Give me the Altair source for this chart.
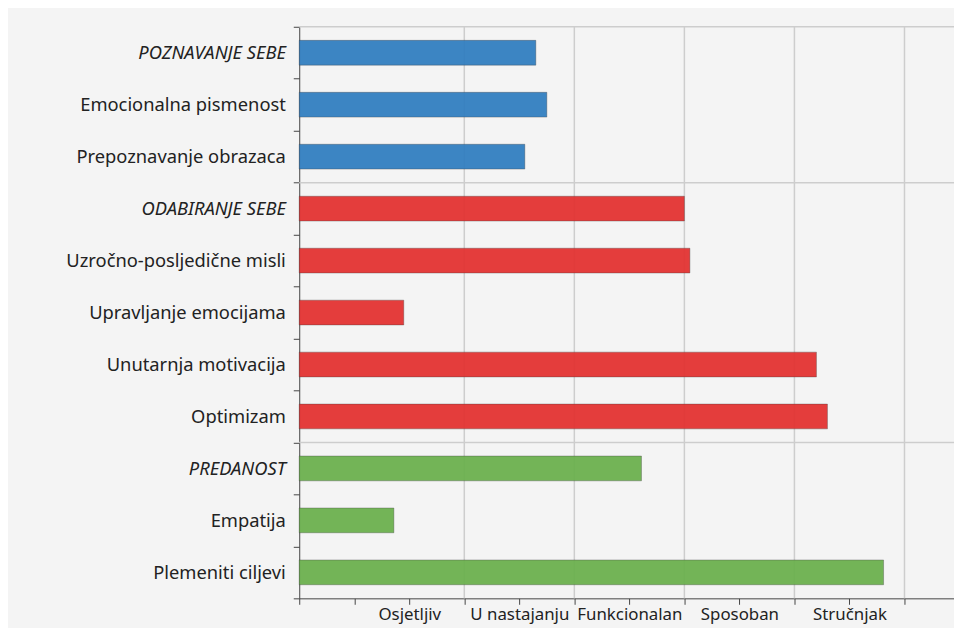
import altair as alt
import pandas as pd

categories = [
    "POZNAVANJE SEBE", "Emocionalna pismenost", "Prepoznavanje obrazaca",
    "ODABIRANJE SEBE", "Uzročno-posljedične misli", "Upravljanje emocijama",
    "Unutarnja motivacija", "Optimizam",
    "PREDANOST", "Empatija", "Plemeniti ciljevi",
]
values = [2.15, 2.25, 2.05, 3.50, 3.55, 0.95, 4.70, 4.80, 3.11, 0.86, 5.31]
groups = ["Poznavanje"] * 3 + ["Odabiranje"] * 5 + ["Predanost"] * 3
group_names = ["Poznavanje", "Odabiranje", "Predanost"]
group_colors = ["#2f7dc0", "#e3302f", "#6ab04c"]
headers = ["POZNAVANJE SEBE", "ODABIRANJE SEBE", "PREDANOST"]
level_labels = {1: "Osjetljiv", 2: "U nastajanju", 3: "Funkcionalan", 4: "Sposoban", 5: "Stručnjak"}
x_ticks = [i * 0.5 for i in range(12)]
x_grid = [1.5, 2.5, 3.5, 4.5, 5.5]

df = pd.DataFrame({"cat": categories, "val": values, "grp": groups})
grid_df = pd.DataFrame({"g": x_grid})
hgrid_df = pd.DataFrame({"cat": headers})

label_expr = " : ".join(
    [f"datum.value == {k} ? '{v}'" for k, v in level_labels.items()]
) + " : ''"

font = "Noto Sans"
yscale = alt.Scale(domain=categories)
xscale = alt.Scale(domain=[0, 5.95], nice=False, zero=True)

bars = alt.Chart(df).mark_bar(size=25, opacity=0.93, strokeWidth=1, strokeOpacity=0.35, stroke="#333").encode(
    y=alt.Y("cat:N", scale=yscale, title=None, sort=categories,
            axis=alt.Axis(tickBand="extent", grid=False, domainColor="#444", tickColor="#444",
                          tickSize=6, labelFont=font, labelFontSize=18.5, labelColor="#222",
                          labelPadding=8, labelLimit=300,
                          labelFontStyle={"condition": {"test": "indexof(['POZNAVANJE SEBE','ODABIRANJE SEBE','PREDANOST'], datum.value) >= 0", "value": "italic"}, "value": "normal"})),
    x=alt.X("val:Q", scale=xscale, title=None,
            axis=alt.Axis(values=x_ticks, labelExpr=label_expr, grid=False, domainColor="#444",
                          tickColor="#444", tickSize=6, labelFont=font, labelFontSize=17,
                          labelColor="#222", labelPadding=2, labelFlush=False, labelOverlap=False)),
    color=alt.Color("grp:N", scale=alt.Scale(domain=group_names, range=group_colors), legend=None),
)

vgrid = alt.Chart(grid_df).mark_rule(color="#cdcdcd", strokeWidth=1.5).encode(
    x=alt.X("g:Q", scale=xscale)
)

hgrid = alt.Chart(hgrid_df).mark_rule(color="#cdcdcd", strokeWidth=1.5).encode(
    y=alt.Y("cat:N", scale=yscale, sort=categories, bandPosition=0)
)

chart = alt.layer(vgrid, hgrid, bars).properties(
    width=661,
    height=577,
    autosize=alt.AutoSizeParams(type="none"),
    padding={"left": 294, "top": 16, "right": 0, "bottom": 27},
    background="#f4f4f4",
).configure_view(stroke=None, fill="#f4f4f4")

chart.save("out.html", embed_options={"renderer": "svg", "actions": False})
